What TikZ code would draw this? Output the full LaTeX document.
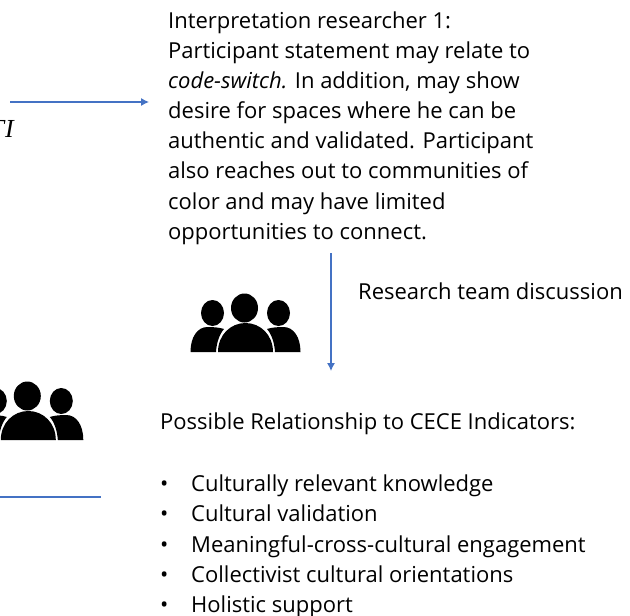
\documentclass[tikz,border=0pt]{standalone}
\usepackage{fontspec}
\usetikzlibrary{arrows.meta}
\setmainfont{Open Sans}
\newfontfamily\serifi{Liberation Serif}
\definecolor{linkblue}{RGB}{68,114,196}
\tikzset{
  txt/.style={anchor=base west,inner sep=0pt,font=\fontsize{22pt}{26pt}\selectfont},
  conn/.style={draw=linkblue,line width=1.1pt},
  tip/.style={-{Latex[length=8pt,width=8pt]}}
}
\newcommand{\people}[2]{%
  \begin{scope}[shift={(#1,#2)},x=1pt,y=1pt]
    \fill[black] (-1,15) ellipse [x radius=13.5,y radius=14.5];
    \fill[black] (-33,10) ellipse [x radius=11.5,y radius=13];
    \fill[black] (33,10) ellipse [x radius=11.5,y radius=13];
    \fill[black] (-27.5,-29) .. controls (-27.5,-12) and (-15,0) .. (0,0) .. controls (15,0) and (27.5,-12) .. (27.5,-29) -- cycle;
    \fill[black] (-55,-29) .. controls (-55,-14) and (-48,-4) .. (-38,-4) .. controls (-32,-4) and (-26,-4.5) .. (-21.5,-6) .. controls (-26,-11) and (-29,-20) .. (-29.5,-29) -- cycle;
    \fill[black] (55,-29) .. controls (55,-14) and (48,-4) .. (38,-4) .. controls (32,-4) and (26,-4.5) .. (21.5,-6) .. controls (26,-11) and (29,-20) .. (29.5,-29) -- cycle;
  \end{scope}}
\begin{document}
\begin{tikzpicture}[x=1pt,y=-1pt]
\useasboundingbox (0,0) rectangle (630,616);
\foreach \n/\y/\t in {a/28/{Interpretation researcher 1:},b/58/{Participant statement may relate to},c/88/{\textit{code-switch.} In addition, may show},d/118/{desire for spaces where he can be},e/148/{authentic and validated. Participant},f/178/{also reaches out to communities of},g/209/{color and may have limited},h/239/{opportunities to connect.}}
  \node[txt] (\n) at (168,\y) {\t};
\node[txt] (disc) at (358,299) {Research team discussion};
\node[txt] (poss) at (160,429) {Possible Relationship to CECE Indicators:};
\foreach \n/\y/\t in {k/491/{Culturally relevant knowledge},l/521/{Cultural validation},m/552/{Meaningful-cross-cultural engagement},o/582/{Collectivist cultural orientations},p/612/{Holistic support}}{
  \node[txt] (\n) at (191,\y) {\t};
  \node[txt] (\n b) at (160,\y) {•};
}
\node[anchor=base east,inner sep=0pt,font=\serifi\itshape\fontsize{26pt}{26pt}\selectfont] (ti) at (14,137) {T\kern1pt I};
\coordinate (a1) at (10,102);
\coordinate (a2) at (149,102);
\coordinate (b1) at (331,253);
\coordinate (b2) at (331,371);
\coordinate (c1) at (0,497);
\coordinate (c2) at (101,497);
\draw[conn,tip] (a1) -- (a2);
\draw[conn,tip] (b1) -- (b2);
\draw[conn] (c1) -- (c2);
\people{245.5}{323}
\people{28.3}{411}
\end{tikzpicture}
\end{document}
